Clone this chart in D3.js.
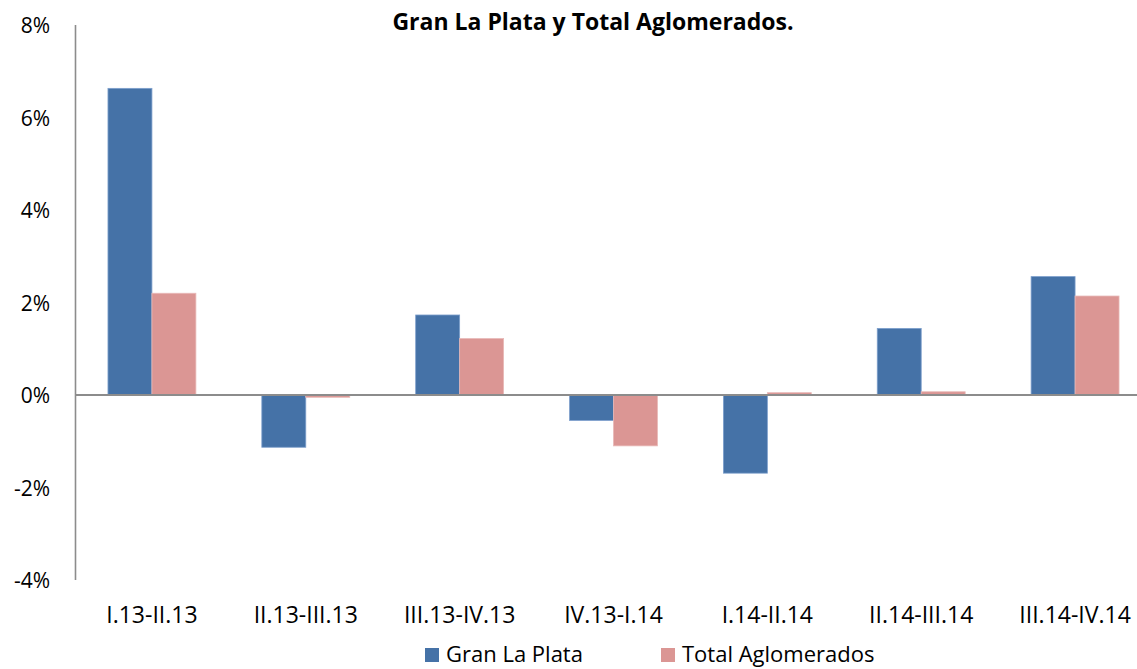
<!DOCTYPE html>
<html>
<head>
<meta charset="utf-8">
<script src="https://cdn.jsdelivr.net/npm/d3@7"></script>
<style>
    body { margin: 0; background: #fff; }
    svg { display: block; font-family: "Open Sans", "Noto Sans", sans-serif; }
</style>
</head>
<body>
<svg id="chart" width="1137" height="669"></svg>
<script>
    const categories = ["I.13-II.13", "II.13-III.13", "III.13-IV.13", "IV.13-I.14", "I.14-II.14", "II.14-III.14", "III.14-IV.14"];
    const seriesNames = ["Gran La Plata", "Total Aglomerados"];
    const granLaPlata = [6.63, -1.13, 1.73, -0.55, -1.69, 1.44, 2.56];
    const totalAglomerados = [2.2, -0.05, 1.22, -1.1, 0.05, 0.07, 2.14];
    const yTicks = [-4, -2, 0, 2, 4, 6, 8];
    const colors = ["#4572a7", "#db9694"];
    const strokes = ["#7d9fcc", "#e8b9b7"];

    const svg = d3.select("#chart");
    const width = 1137;

    const x = d3.scaleBand().domain(categories).range([75, 1152]);
    const inner = d3.scaleBand().domain(seriesNames)
        .range([0, x.bandwidth()])
        .paddingInner(0)
        .paddingOuter(0.75);
    const y = d3.scaleLinear().domain([-4, 8]).range([580, 25]);

    const rows = categories.map((c, i) => ({ cat: c, values: [granLaPlata[i], totalAglomerados[i]] }));

    // bars
    const groups = svg.append("g").selectAll("g")
        .data(rows)
        .enter().append("g")
        .attr("transform", d => `translate(${x(d.cat)},0)`);

    groups.selectAll("rect")
        .data(d => d.values.map((v, k) => ({ v, k })))
        .enter().append("rect")
        .attr("x", d => inner(seriesNames[d.k]))
        .attr("width", inner.bandwidth())
        .attr("y", d => y(Math.max(0, d.v)))
        .attr("height", d => Math.abs(y(d.v) - y(0)))
        .attr("fill", d => colors[d.k])
        .attr("stroke", d => strokes[d.k])
        .attr("stroke-width", 0.8);

    // y axis line
    svg.append("line")
        .attr("x1", 75.5).attr("x2", 75.5)
        .attr("y1", y(8)).attr("y2", y(-4))
        .attr("stroke", "#8c8c8c").attr("stroke-width", 1.6);

    // zero line
    svg.append("line")
        .attr("x1", 75).attr("x2", width)
        .attr("y1", y(0)).attr("y2", y(0))
        .attr("stroke", "#8c8c8c").attr("stroke-width", 2);

    // y tick labels
    svg.append("g").selectAll("text")
        .data(yTicks)
        .enter().append("text")
        .attr("x", 50)
        .attr("y", d => y(d) + 8)
        .attr("text-anchor", "end")
        .attr("font-size", 21)
        .attr("fill", "#000")
        .text(d => d + "%");

    // category labels
    svg.append("g").selectAll("text")
        .data(categories)
        .enter().append("text")
        .attr("x", d => x(d) + x.bandwidth() / 2)
        .attr("y", 623)
        .attr("text-anchor", "middle")
        .attr("font-size", 23)
        .attr("fill", "#000")
        .text(d => d);

    // title
    svg.append("text")
        .attr("x", 593)
        .attr("y", 30)
        .attr("text-anchor", "middle")
        .attr("font-size", 23)
        .attr("font-weight", "bold")
        .text("Gran La Plata y Total Aglomerados.");

    // legend
    const legendX = [425, 661];
    const legend = svg.append("g").selectAll("g")
        .data(seriesNames)
        .enter().append("g")
        .attr("transform", (d, i) => `translate(${legendX[i]},648)`);
    legend.append("rect")
        .attr("width", 14).attr("height", 14)
        .attr("fill", (d, i) => colors[i]);
    legend.append("text")
        .attr("x", 21).attr("y", 14)
        .attr("font-size", 22)
        .text(d => d);
</script>
</body>
</html>
